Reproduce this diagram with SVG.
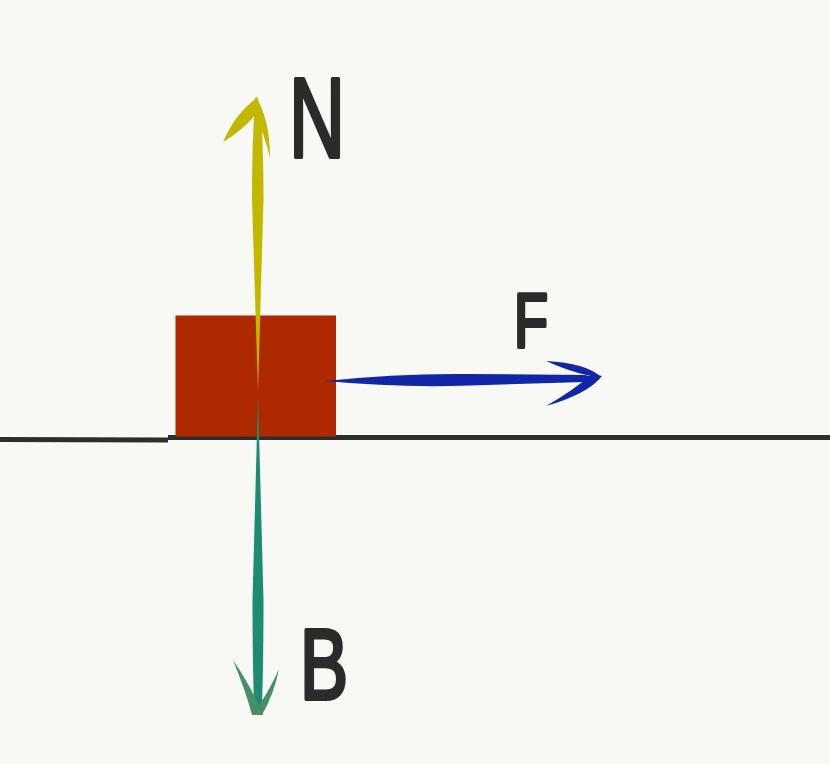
<svg xmlns="http://www.w3.org/2000/svg" width="830" height="764" viewBox="0 0 830 764">
  <style>
    .lbl { font-family: "Liberation Sans", Arial, sans-serif; fill: #2b2b2b; stroke: #2b2b2b; stroke-width: 4; stroke-linejoin: round; }
    .ground { stroke: #2e2e2e; stroke-width: 5; fill: none; stroke-linecap: butt; }
  </style>
  <rect width="830" height="764" fill="#f8f8f5"/>
  <g id="ground">
    <path class="ground" d="M0,439.5 L168,440"/>
    <path class="ground" d="M168,437.5 L830,437.5"/>
  </g>
  <g id="block">
    <rect x="175.5" y="315.5" width="160.5" height="121" fill="#ae2800"/>
  </g>
  <g id="connectors">
    <g id="arrow-N" fill="#c2b800">
      <path d="M258,392 L252,200 Q252,140 255,104 L260,104 Q263.5,140 263.5,200 Z"/>
      <path d="M258,97 Q236,112 223,142 Q246,128 259,110 Z"/>
      <path d="M256,97 Q270,120 270,158 Q263,128 251,108 Z"/>
    </g>
    <g id="arrow-F" fill="#1226a8">
      <path d="M325,381 Q400,373 470,374 L585,375 L598,378 L585,382 L470,385.5 Q400,388 325,381 Z"/>
      <path d="M546,361 Q586,363 601,377 Q580,376 546,361 Z"/>
      <path d="M602,376 Q588,394 546,406 Q574,390 592,374 Z"/>
    </g>
    <g id="arrow-B">
      <path fill="#1e8c72" d="M258,395 L252.5,600 Q252.5,660 254,705 L262,705 Q263.5,660 263.5,600 Z"/>
      <path fill="#468f68" d="M233,660 Q246,692 252,715 L263,715 Q252,688 233,660 Z"/>
      <path fill="#468f68" d="M279,669 Q268,694 252,715 L262,715 Q274,694 279,669 Z"/>
    </g>
  </g>
  <g id="label-N">
    <text class="lbl" x="289" y="157" font-size="114" textLength="56" lengthAdjust="spacingAndGlyphs">N</text>
  </g>
  <g id="label-F">
    <text class="lbl" x="514" y="347" font-size="76" textLength="34" lengthAdjust="spacingAndGlyphs">F</text>
  </g>
  <g id="label-B">
    <text class="lbl" x="300" y="699" font-size="100" textLength="48" lengthAdjust="spacingAndGlyphs">B</text>
  </g>
</svg>
